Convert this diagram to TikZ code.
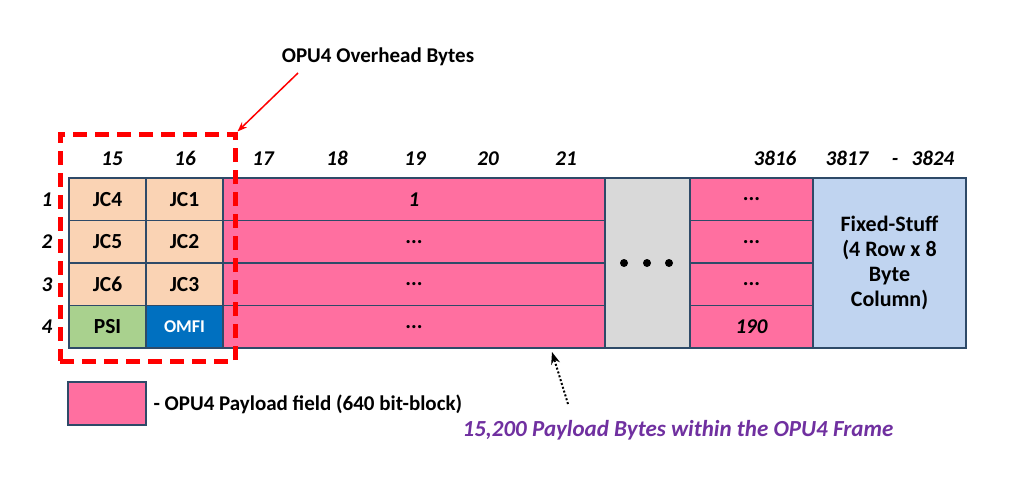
\documentclass[tikz,border=0pt]{standalone}
\usepackage{fontspec}
\setmainfont{Carlito}
\usetikzlibrary{arrows.meta}
\definecolor{peach}{HTML}{FAD3B4}
\definecolor{psigreen}{HTML}{A9D18E}
\definecolor{omfiblue}{HTML}{0070C0}
\definecolor{payload}{HTML}{FF6FA0}
\definecolor{gapgray}{HTML}{D9D9D9}
\definecolor{stuffblue}{HTML}{C0D4F0}
\definecolor{cellline}{HTML}{2E4A68}
\definecolor{notepurple}{HTML}{7030A0}
\tikzset{
  cell/.style={draw=cellline, line width=1.3pt, rectangle, inner sep=0pt,
    font=\bfseries\fontsize{21.5}{23}\selectfont},
  colnum/.style={font=\bfseries\itshape\fontsize{21}{23}\selectfont},
}
\begin{document}
\begin{tikzpicture}[x=1pt, y=-1pt, >=Stealth]
\useasboundingbox (0,0) rectangle (1024,487);

% column numbers
\foreach \n/\x in {15/112, 16/185, 17/263, 18/337, 19/415, 20/488, 21/566,
  3816/775, 3817/847, 3824/933}
  \node[colnum, anchor=base] (c\n) at (\x,165) {\n};
\node[colnum, anchor=base] (cdash) at (895,165) {-};

% row numbers
\foreach \r/\y in {1/199.25, 2/241.75, 3/284.25, 4/326.75}
  \node[colnum] (row\r) at (47,\y) {\r};

% overhead columns
\node[cell, fill=peach, minimum width=77pt, minimum height=42.5pt] (jc4) at (107.5,199.25) {JC4};
\node[cell, fill=peach, minimum width=77pt, minimum height=42.5pt] (jc5) at (107.5,241.75) {JC5};
\node[cell, fill=peach, minimum width=77pt, minimum height=42.5pt] (jc6) at (107.5,284.25) {JC6};
\node[cell, fill=psigreen, minimum width=77pt, minimum height=42.5pt] (psi) at (107.5,326.75) {PSI};
\node[cell, fill=peach, minimum width=77pt, minimum height=42.5pt] (jc1) at (184.5,199.25) {JC1};
\node[cell, fill=peach, minimum width=77pt, minimum height=42.5pt] (jc2) at (184.5,241.75) {JC2};
\node[cell, fill=peach, minimum width=77pt, minimum height=42.5pt] (jc3) at (184.5,284.25) {JC3};
\node[cell, fill=omfiblue, text=white, minimum width=77pt, minimum height=42.5pt,
  font=\bfseries\fontsize{18}{20}\selectfont] (omfi) at (184.5,326.75) {OMFI};

% payload blocks
\node[cell, fill=payload, minimum width=382pt, minimum height=42.5pt,
  font=\bfseries\itshape\fontsize{21}{23}\selectfont] (pl1) at (414,199.25) {1};
\node[cell, fill=payload, minimum width=382pt, minimum height=42.5pt] (pl2) at (414,241.75) {...};
\node[cell, fill=payload, minimum width=382pt, minimum height=42.5pt] (pl3) at (414,284.25) {...};
\node[cell, fill=payload, minimum width=382pt, minimum height=42.5pt] (pl4) at (414,326.75) {...};

\node[cell, fill=gapgray, minimum width=85pt, minimum height=170pt] (gap) at (647.5,263) {};
\foreach \x in {624,647,669}
  \fill (\x,263) circle (4pt);

\node[cell, fill=payload, minimum width=123pt, minimum height=42.5pt] (pr1) at (751.5,199.25) {...};
\node[cell, fill=payload, minimum width=123pt, minimum height=42.5pt] (pr2) at (751.5,241.75) {...};
\node[cell, fill=payload, minimum width=123pt, minimum height=42.5pt] (pr3) at (751.5,284.25) {...};
\node[cell, fill=payload, minimum width=123pt, minimum height=42.5pt,
  font=\bfseries\itshape\fontsize{21}{23}\selectfont] (pr4) at (751.5,326.75) {190};

\node[cell, fill=stuffblue, minimum width=153pt, minimum height=170pt, align=center,
  font=\bfseries\fontsize{22}{25}\selectfont] (stuff) at (889.5,263)
  {Fixed-Stuff\\(4 Row x 8\\Byte\\Column)};

% overhead marker
\node[draw=red, line width=5pt, dash pattern=on 14pt off 8pt, rectangle,
  minimum width=175pt, minimum height=227pt] (ohbox) at (147.5,247.5) {};
\node[font=\bfseries\fontsize{21}{23}\selectfont] (ohlabel) at (378,57) {OPU4 Overhead Bytes};
\coordinate (ohfrom) at (298,73);
\draw[->, red, line width=1.5pt] (ohfrom) -- (ohbox.north east);

% legend
\node[cell, fill=payload, minimum width=78pt, minimum height=43pt] (legbox) at (107,403.5) {};
\node[anchor=west, font=\bfseries\fontsize{21}{23}\selectfont] (legtext) at (150,404)
  {- OPU4 Payload field (640 bit-block)};

% payload total
\node[text=notepurple, font=\bfseries\itshape\fontsize{23}{25}\selectfont] (total) at (678,430)
  {15,200 Payload Bytes within the OPU4 Frame};
\coordinate (dotfrom) at (568,404);
\coordinate (dotto) at (552,352);
\draw[->, dotted, line width=2pt] (dotfrom) -- (dotto);
\end{tikzpicture}
\end{document}
